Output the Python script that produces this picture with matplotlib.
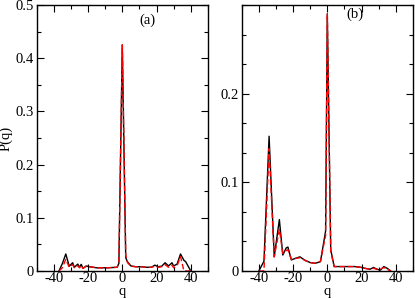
import matplotlib
matplotlib.use("Agg")
import matplotlib.pyplot as plt
from matplotlib.ticker import MultipleLocator, FuncFormatter

# panel (a)
q_a = [-37, -35, -33, -31, -29, -28, -26, -25, -24, -23, -21, -19, -17, -15, -12, -9, -6, -3, -2,
       0, 2, 3, 5, 8, 11, 14, 17, 19, 21, 23, 25, 27, 29, 30, 32, 34, 36, 37, 40]
black_a = [0.0, 0.014, 0.032, 0.009, 0.0155, 0.007, 0.013, 0.007, 0.0125, 0.005, 0.0095, 0.008, 0.007,
           0.006, 0.006, 0.006, 0.0065, 0.007, 0.0145,
           0.425, 0.025, 0.0175, 0.0095, 0.008, 0.008, 0.007, 0.007, 0.011, 0.008, 0.009, 0.0155,
           0.0095, 0.0155, 0.0095, 0.013, 0.032, 0.02, 0.0175, 0.0]
red_a = [0.0, 0.006, 0.022, 0.007, 0.012, 0.006, 0.01, 0.006, 0.01, 0.005, 0.009, 0.008, 0.007,
         0.006, 0.006, 0.006, 0.0065, 0.007, 0.016,
         0.425, 0.03, 0.016, 0.009, 0.008, 0.008, 0.007, 0.007, 0.009, 0.007, 0.008, 0.012,
         0.007, 0.011, 0.006, 0.01, 0.027, 0.0, 0.0, 0.0]

# panel (b)
q_b = [-40, -37, -34, -31, -28, -26, -24, -23, -21, -19, -16, -13, -10, -7, -4, -1,
       0, 2, 4, 8, 12, 16, 20, 22, 25, 27, 29, 31, 33, 35, 37]
black_b = [0.0, 0.011, 0.152, 0.016, 0.058, 0.018, 0.026, 0.027, 0.0125, 0.014, 0.016, 0.012, 0.0095,
           0.0087, 0.0105, 0.045,
           0.29, 0.024, 0.005, 0.005, 0.005, 0.005, 0.004, 0.003, 0.002, 0.004, 0.002, 0.001, 0.005,
           0.003, 0.0]
red_b = [0.0, 0.0, 0.138, 0.016, 0.047, 0.02, 0.023, 0.024, 0.013, 0.014, 0.015, 0.012, 0.0095,
         0.0087, 0.011, 0.04,
         0.29, 0.022, 0.005, 0.005, 0.005, 0.005, 0.004, 0.003, 0.002, 0.003, 0.002, 0.002, 0.004,
         0.002, 0.0]

plt.rcParams["font.family"] = ["Liberation Serif", "DejaVu Serif"]
plt.rcParams["font.size"] = 10.5
plt.rcParams["axes.unicode_minus"] = False

fig = plt.figure(figsize=(4.15, 2.98), dpi=100)
ax_a = fig.add_axes([0.0884, 0.0906, 0.4126, 0.8926])
ax_b = fig.add_axes([0.5824, 0.0906, 0.4126, 0.8926])


def fmt(v, pos):
    if abs(v) < 1e-9:
        return "0"
    return f"{v:.1f}"


for ax in (ax_a, ax_b):
    ax.set_xlim(-50, 50)
    ax.xaxis.set_major_locator(MultipleLocator(20))
    ax.xaxis.set_minor_locator(MultipleLocator(10))
    ax.tick_params(which="both", direction="in", top=True, right=True, width=0.8)
    ax.tick_params(which="major", length=5, pad=2)
    ax.tick_params(axis="x", which="major", pad=1)
    ax.tick_params(which="minor", length=3)
    ax.yaxis.set_major_formatter(FuncFormatter(fmt))
    ax.set_xlabel("q", labelpad=-0.5)
    for s in ax.spines.values():
        s.set_linewidth(1.0)

ax_a.plot(q_a, black_a, color="black", lw=1.0)
ax_a.plot(q_a, red_a, color="red", lw=1.0, ls=(0, (4, 2)))
ax_a.set_ylim(0, 0.5)
ax_a.yaxis.set_major_locator(MultipleLocator(0.1))
ax_a.yaxis.set_minor_locator(MultipleLocator(0.05))
ax_a.set_ylabel("P(q)", labelpad=2)
ax_a.text(0.6, 0.93, "(a)", transform=ax_a.transAxes)

ax_b.plot(q_b, black_b, color="black", lw=1.0)
ax_b.plot(q_b, red_b, color="red", lw=1.0, ls=(0, (4, 2)))
ax_b.set_ylim(0, 0.3)
ax_b.set_yticks([0, 0.1, 0.2])
ax_b.yaxis.set_minor_locator(MultipleLocator(1 / 30))
ax_b.text(0.61, 0.95, "(b)", transform=ax_b.transAxes)

fig.savefig("out.png", dpi=100)
